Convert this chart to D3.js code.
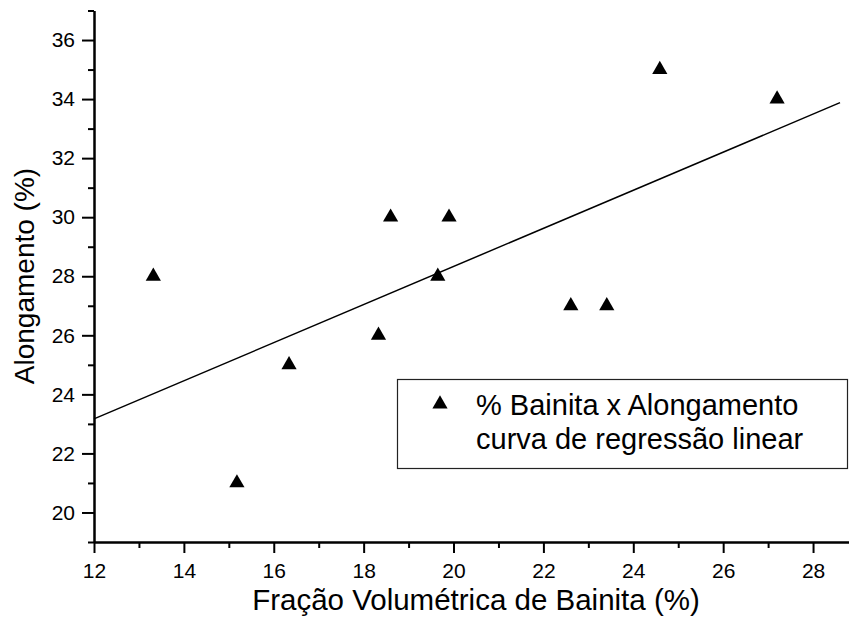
<!DOCTYPE html>
<html>
<head>
<meta charset="utf-8">
<script src="https://cdn.jsdelivr.net/npm/d3@7"></script>
<style>
  body { margin: 0; background: #fff; }
  svg text { font-family: "Liberation Sans", Arial, sans-serif; fill: #000; }
</style>
</head>
<body>
<svg id="chart" width="849" height="628"></svg>
<script>
// dados
var fracao = [13.32, 15.18, 16.34, 18.33, 18.60, 19.65, 19.90, 22.61, 23.41, 24.59, 27.20];
var alongamento = [28, 21, 25, 26, 30, 28, 30, 27, 27, 35, 34];
var regX = [12, 28.6];
var regY = [23.17, 33.88];
var xTicks = [12, 14, 16, 18, 20, 22, 24, 26, 28];
var xMinor = [13, 15, 17, 19, 21, 23, 25, 27];
var yTicks = [20, 22, 24, 26, 28, 30, 32, 34, 36];
var yMinor = [19, 21, 23, 25, 27, 29, 31, 33, 35, 37];
var legendLabels = ["% Bainita x Alongamento", "curva de regressão linear"];

var svg = d3.select("#chart");
var x = d3.scaleLinear().domain([12, 28.8]).range([94, 849]);
var y = d3.scaleLinear().domain([19, 37]).range([542, 10.5]);

// eixo x
var gx = svg.append("g").attr("transform", "translate(0,542)");
gx.call(d3.axisBottom(x).tickValues(xTicks).tickSize(11).tickSizeOuter(0).tickPadding(10));
gx.append("g").call(d3.axisBottom(x).tickValues(xMinor).tickSize(6).tickSizeOuter(0).tickFormat(""));
gx.selectAll("text").attr("font-size", 21);

// eixo y
var gy = svg.append("g").attr("transform", "translate(94,0)");
gy.call(d3.axisLeft(y).tickValues(yTicks).tickSize(12).tickSizeOuter(0).tickPadding(7));
gy.append("g").call(d3.axisLeft(y).tickValues(yMinor).tickSize(6).tickSizeOuter(0).tickFormat(""));
gy.selectAll("text").attr("font-size", 21);

svg.selectAll(".domain, .tick line").attr("stroke", "#000").attr("stroke-width", 2);

// curva de regressão
var line = d3.line().x(function (d) { return x(d[0]); }).y(function (d) { return y(d[1]); });
svg.append("path")
  .datum(d3.zip(regX, regY))
  .attr("d", line)
  .attr("fill", "none")
  .attr("stroke", "#000")
  .attr("stroke-width", 1.5);

// pontos
var tri = d3.symbol().type(d3.symbolTriangle).size(100);
svg.selectAll(".pt").data(d3.zip(fracao, alongamento)).enter().append("path")
  .attr("class", "pt")
  .attr("d", tri)
  .attr("transform", function (d) { return "translate(" + x(d[0]) + "," + y(d[1]) + ")"; })
  .attr("fill", "#000");

// legenda
var lg = svg.append("g");
lg.append("rect")
  .attr("x", 397.5).attr("y", 379.5).attr("width", 450).attr("height", 89)
  .attr("fill", "#fff").attr("stroke", "#222").attr("stroke-width", 1.2);
lg.append("path").attr("d", tri).attr("transform", "translate(440,404)").attr("fill", "#000");
lg.selectAll(".lt").data(legendLabels).enter().append("text")
  .attr("class", "lt")
  .attr("x", 476)
  .attr("y", function (d, i) { return 415 + i * 34; })
  .attr("font-size", 29)
  .text(function (d) { return d; });

// títulos
svg.append("text")
  .attr("x", 476).attr("y", 610)
  .attr("text-anchor", "middle").attr("font-size", 29.5)
  .text("Fração Volumétrica de Bainita (%)");
svg.append("text")
  .attr("transform", "translate(34,276) rotate(-90)")
  .attr("text-anchor", "middle").attr("font-size", 28)
  .text("Alongamento (%)");
</script>
</body>
</html>
